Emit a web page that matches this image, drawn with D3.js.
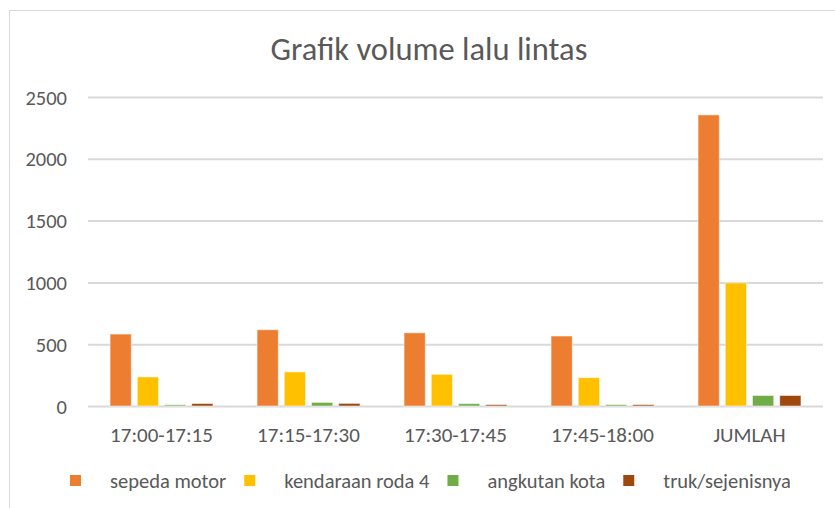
<!DOCTYPE html>
<html>
<head>
<meta charset="utf-8">
<script src="https://cdn.jsdelivr.net/npm/d3@7"></script>
<style>
  body { margin: 0; background: #fff; }
  svg text { font-family: Carlito, Calibri, "Liberation Sans Narrow", "Open Sans", sans-serif; fill: #595959; }
</style>
</head>
<body>
<svg id="chart"></svg>
<script>
// categories and series values
const categories = ['17:00-17:15', '17:15-17:30', '17:30-17:45', '17:45-18:00', 'JUMLAH'];
const seriesNames = ['sepeda motor', 'kendaraan roda 4', 'angkutan kota', 'truk/sejenisnya'];
const sepedaMotor = [582, 617, 592, 566, 2355];
const kendaraanRoda4 = [235, 276, 256, 229, 996];
const angkutanKota = [10, 29, 19, 11, 85];
const trukSejenisnya = [20, 21, 11, 11, 85];
const yTicks = [0, 500, 1000, 1500, 2000, 2500];
const colors = ['#ED7D31', '#FFC000', '#70AD47', '#9E480E'];

const seriesValues = [sepedaMotor, kendaraanRoda4, angkutanKota, trukSejenisnya];
const data = categories.map((c, i) => ({
    cat: c,
    vals: seriesNames.map((s, j) => ({ key: s, value: seriesValues[j][i] }))
}));

const width = 835, height = 508;
const svg = d3.select('#chart').attr('width', width).attr('height', height);

// chart area border (only top and left are visible in the crop)
svg.append('rect')
    .attr('x', 9.5).attr('y', 10.5)
    .attr('width', 840).attr('height', 510)
    .attr('fill', '#fff')
    .attr('stroke', '#d9d9d9');

svg.append('text')
    .attr('x', 429).attr('y', 60)
    .attr('text-anchor', 'middle')
    .attr('font-size', '32.5px')
    .text('Grafik volume lalu lintas');

const plotLeft = 88, plotRight = 823;
const y = d3.scaleLinear().domain([0, 2500]).range([406, 97]);
const x0 = d3.scaleBand().domain(categories).range([plotLeft, plotRight]);
const clusterW = x0.bandwidth() * 0.7;
const x1 = d3.scaleBand().domain(seriesNames).range([0, clusterW]).paddingInner(0.22);
const color = d3.scaleOrdinal().domain(seriesNames).range(colors);

// gridlines + tick labels
const yAxis = svg.append('g')
    .call(d3.axisLeft(y).tickValues(yTicks).tickFormat(d3.format('d')).tickSize(0).tickPadding(0));
yAxis.select('.domain').remove();
yAxis.selectAll('.tick line').remove();
yAxis.selectAll('.tick').append('line')
    .attr('x1', plotLeft).attr('x2', plotRight)
    .attr('stroke', '#d9d9d9').attr('stroke-width', 2);
yAxis.selectAll('.tick text')
    .attr('x', 67).attr('font-size', '20.5px')
    .attr('text-anchor', 'end').attr('dy', '0.35em');

const groups = svg.selectAll('g.grp')
    .data(data)
    .enter().append('g')
    .attr('class', 'grp')
    .attr('transform', d => `translate(${x0(d.cat) + (x0.bandwidth() - clusterW) / 2},0)`);

groups.selectAll('rect')
    .data(d => d.vals)
    .enter().append('rect')
    .attr('x', d => x1(d.key))
    .attr('width', x1.bandwidth())
    .attr('y', d => y(d.value))
    .attr('height', d => y(0) - y(d.value))
    .attr('fill', d => color(d.key))
    .attr('stroke', '#fff').attr('stroke-opacity', 0.5).attr('stroke-width', 1);

// x labels
const xAxis = svg.append('g')
    .attr('transform', 'translate(0,406)')
    .call(d3.axisBottom(x0).tickSize(0).tickPadding(0));
xAxis.select('.domain').remove();
xAxis.selectAll('.tick text')
    .attr('y', 29).attr('dy', '0.35em')
    .attr('font-size', '21px');

// legend
const legend = svg.append('g').attr('transform', 'translate(70,480.5)');
let lx = 0;
seriesNames.forEach((s, i) => {
    const it = legend.append('g').attr('transform', `translate(${lx},0)`);
    it.append('rect')
        .attr('x', 0).attr('y', -5.5)
        .attr('width', 11).attr('height', 11)
        .attr('fill', color(s));
    const t = it.append('text')
        .attr('x', 40).attr('y', 0).attr('dy', '0.35em')
        .attr('font-size', '20.5px')
        .text(s);
    lx += 40 + t.node().getComputedTextLength() + 18;
});
</script>
</body>
</html>
